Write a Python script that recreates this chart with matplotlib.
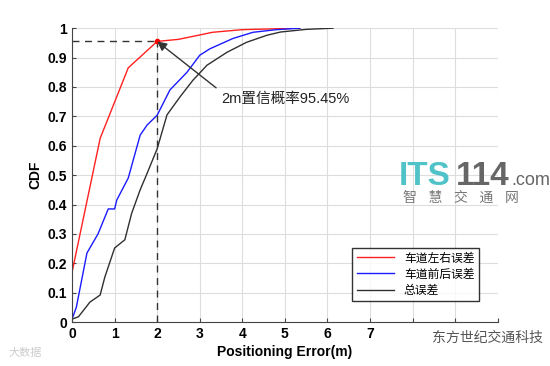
import numpy as np
import matplotlib.pyplot as plt

plt.rcParams['font.family'] = ['Liberation Sans', 'Noto Sans CJK SC', 'DejaVu Sans']

# values
red_x = [0, 0.66, 1.32, 2.0, 2.5, 3.3, 4.0, 5.35]
red_y = [0.17, 0.625, 0.865, 0.955, 0.962, 0.986, 0.995, 1.0]

blue_x = [0, 0.1, 0.35, 0.61, 0.85, 1.0, 1.05, 1.32, 1.6, 1.76, 2.0, 2.3, 2.7, 3.0, 3.24, 3.78, 4.25, 4.8, 5.35]
blue_y = [0.01, 0.05, 0.235, 0.30, 0.385, 0.385, 0.415, 0.49, 0.636, 0.67, 0.704, 0.79, 0.85, 0.908, 0.93, 0.965, 0.986, 0.995, 1.0]

blk_x = [0, 0.15, 0.42, 0.66, 0.77, 1.0, 1.24, 1.4, 1.6, 1.76, 2.0, 2.23, 2.54, 2.84, 3.17, 3.64, 4.1, 4.58, 4.9, 5.5, 6.13]
blk_y = [0.01, 0.018, 0.068, 0.092, 0.153, 0.252, 0.28, 0.37, 0.45, 0.505, 0.59, 0.705, 0.767, 0.823, 0.874, 0.918, 0.952, 0.976, 0.987, 0.996, 1.0]

labels = ['车道左右误差', '车道前后误差', '总误差']
xticks = np.arange(0, 11)
xticklabels = ['0', '1', '2', '3', '4', '5', '6', '7', '', '', '']  # 8-10 hidden under watermark
yticks = np.round(np.arange(0, 1.01, 0.1), 1)
px, py = 2.0, 0.955

fig = plt.figure(figsize=(5.5, 3.66), dpi=100)
ax = fig.add_axes([0.131, 0.120, 0.774, 0.803])

ax.plot(red_x, red_y, color='#ff2020', lw=1.0, label=labels[0])
ax.plot(blue_x, blue_y, color='#1a1aff', lw=1.0, label=labels[1])
ax.plot(blk_x, blk_y, color='#303030', lw=1.0, label=labels[2])

ax.plot([0, px], [py, py], '--', color='#333333', lw=1.0, dashes=(5, 4))
ax.plot([px, px], [0, py], '--', color='#333333', lw=1.0, dashes=(5, 4))
ax.plot(px, py, 'o', color='red', ms=3)

ax.annotate('2m置信概率95.45%', xy=(px, py), xytext=(3.5, 0.76),
            fontsize=10.5, color='#222222', ha='left', va='center',
            arrowprops=dict(arrowstyle='-|>', color='#333333', lw=1.0,
                            mutation_scale=14, shrinkA=2, shrinkB=0,
                            relpos=(0.0, 1.0)))

ax.set_xlim(0, 10)
ax.set_ylim(0, 1)
ax.set_xticks(xticks)
ax.set_yticks(yticks)
ax.set_xticklabels(xticklabels, fontweight='bold', fontsize=10)
ax.set_yticklabels(['0' if t == 0 else ('1' if t == 1 else str(t)) for t in yticks],
                   fontweight='bold', fontsize=10)
ax.tick_params(direction='in', length=3, color='#444444')
ax.grid(True, color='#dddddd', lw=0.8)
for s in ['top', 'right']:
    ax.spines[s].set_visible(False)
for s in ['left', 'bottom']:
    ax.spines[s].set_color('#444444')

ax.set_xlabel('Positioning Error(m)', fontweight='bold', fontsize=10, labelpad=3)
ax.set_ylabel('CDF', fontweight='bold', fontsize=10, labelpad=4)

leg = ax.legend(loc='lower right', bbox_to_anchor=(0.97, 0.05), fontsize=8.5,
                fancybox=False, edgecolor='black', handlelength=3.2,
                borderpad=0.4, labelspacing=0.35)
leg.get_frame().set_linewidth(1.0)

# watermarks
fig.text(0.725, 0.495, 'ITS', color='#4fc3c8', fontsize=24, fontweight='bold', va='baseline')
fig.text(0.829, 0.495, '114', color='#666666', fontsize=24, fontweight='bold', va='baseline')
fig.text(0.93, 0.495, '.com', color='#666666', fontsize=13, va='baseline')
fig.text(0.732, 0.45, '智   慧   交   通   网', color='#777777', fontsize=10, va='baseline')
fig.text(0.785, 0.077, '东方世纪交通科技', color='#555555', fontsize=10, va='center')
fig.text(0.015, 0.035, '大数据', color='#cccccc', fontsize=8, va='center')

fig.savefig('out.png', dpi=100)
